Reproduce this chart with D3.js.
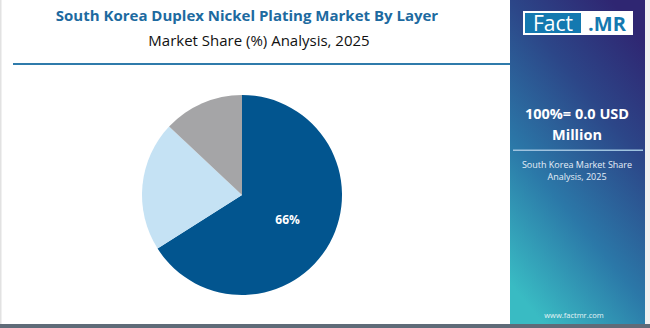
<!DOCTYPE html>
<html><head><meta charset="utf-8">
<script src="https://cdn.jsdelivr.net/npm/d3@7"></script>
<style>body{margin:0;background:#fff;}svg{display:block;font-family:"Open Sans",sans-serif;}</style>
</head><body><svg id="c" width="650" height="328"></svg>
<script>
const categories = ["Layer A", "Layer B", "Layer C"];
const values = [66, 21, 13];
const colors = ["#02558f", "#c5e2f4", "#a5a5a7"];
const labels = ["66%", "", ""];

const svg = d3.select("#c");
const defs = svg.append("defs");
const g = defs.append("linearGradient").attr("id","pg").attr("x1","75%").attr("y1","0%").attr("x2","25%").attr("y2","100%");
g.append("stop").attr("offset","0%").attr("stop-color","#2f2672");
g.append("stop").attr("offset","30%").attr("stop-color","#2c4688");
g.append("stop").attr("offset","65%").attr("stop-color","#2b78a8");
g.append("stop").attr("offset","100%").attr("stop-color","#39bbc3");

svg.append("rect").attr("x",0).attr("y",0).attr("width",650).attr("height",328).attr("fill","#fff");
svg.append("rect").attr("x",0).attr("y",0).attr("width",1.5).attr("height",328).attr("fill","#e2e2e2");
svg.append("rect").attr("x",0).attr("y",324).attr("width",650).attr("height",4).attr("fill","#5f6b78");

// right panel
svg.append("rect").attr("x",510).attr("y",0).attr("width",135).attr("height",324).attr("fill","url(#pg)");
svg.append("rect").attr("x",645).attr("y",0).attr("width",5).attr("height",324).attr("fill","#f0f0f0");

// logo
svg.append("rect").attr("x",523).attr("y",11).attr("width",110).attr("height",24).attr("fill","#fff");
svg.append("rect").attr("x",525).attr("y",13).attr("width",56).attr("height",20).attr("fill","#1479b0");
svg.append("text").attr("x",553).attr("y",31).attr("text-anchor","middle").attr("fill","#fff")
  .attr("font-size",21).attr("font-family","'Open Sans',sans-serif").text("Fact");
svg.append("text").attr("x",607).attr("y",31).attr("text-anchor","middle").attr("fill","#1479b0")
  .attr("font-size",20).attr("font-weight","bold").attr("font-family","'Open Sans',sans-serif").text(".MR");

svg.append("text").attr("x",577).attr("y",119).attr("text-anchor","middle").attr("fill","#fff")
  .attr("font-size",14.5).attr("font-weight","bold").text("100%= 0.0 USD");
svg.append("text").attr("x",577).attr("y",140).attr("text-anchor","middle").attr("fill","#fff")
  .attr("font-size",14.5).attr("font-weight","bold").text("Million");
svg.append("rect").attr("x",513).attr("y",149.5).attr("width",130).attr("height",1.5).attr("fill","#9fc3df");
svg.append("text").attr("x",577).attr("y",168).attr("text-anchor","middle").attr("fill","#e6eef8")
  .attr("font-size",9).text("South Korea Market Share");
svg.append("text").attr("x",577).attr("y",180).attr("text-anchor","middle").attr("fill","#e6eef8")
  .attr("font-size",9).text("Analysis, 2025");
svg.append("text").attr("x",574).attr("y",318).attr("text-anchor","middle").attr("fill","#e6f4f6")
  .attr("font-size",7.5).text("www.factmr.com");

// titles
svg.append("text").attr("x",247).attr("y",21).attr("text-anchor","middle").attr("fill","#1d6aa0")
  .attr("font-size",15).attr("font-weight","bold").text("South Korea Duplex Nickel Plating Market By Layer");
svg.append("text").attr("x",259).attr("y",46).attr("text-anchor","middle").attr("fill","#111")
  .attr("font-size",15).text("Market Share (%) Analysis, 2025");
svg.append("rect").attr("x",13).attr("y",63).attr("width",497).attr("height",2).attr("fill","#2f7bab");

// pie
const cx = 242, cy = 195, r = 100;
const pie = d3.pie().sort(null).value(d => d)(values);
const arc = d3.arc().innerRadius(0).outerRadius(r);
const pg = svg.append("g").attr("transform",`translate(${cx},${cy})`);
pg.selectAll("path").data(pie).join("path").attr("d",arc).attr("fill",(d,i)=>colors[i]);
const lab = d3.arc().innerRadius(r*0.52).outerRadius(r*0.52);
pg.selectAll("text").data(pie).join("text")
  .attr("transform",d=>{const c=lab.centroid(d);return `translate(${c[0]},${c[1]})`;})
  .attr("text-anchor","middle").attr("dy","0.35em").attr("fill","#fff")
  .attr("font-size",12).attr("font-weight","bold").text((d,i)=>labels[i]);
</script></body></html>
